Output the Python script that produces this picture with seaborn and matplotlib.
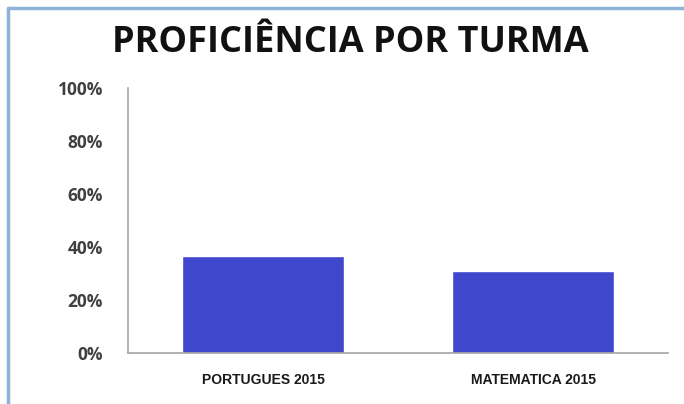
import seaborn as sns
import pandas as pd
import matplotlib.pyplot as plt
from matplotlib.lines import Line2D
from matplotlib.ticker import PercentFormatter

categorias = ["PORTUGUES 2015", "MATEMATICA 2015"]
proficiencia = [36.5, 31.0]
ticks_y = [0, 20, 40, 60, 80, 100]

df = pd.DataFrame({"disciplina": categorias, "valor": proficiencia})

sns.set_style("white")
plt.rcParams["font.family"] = ["Open Sans", "DejaVu Sans"]

fig = plt.figure(figsize=(6.84, 4.04), dpi=100)
ax = fig.add_axes([0.187, 0.126, 0.79, 0.656])

sns.barplot(data=df, x="disciplina", y="valor", color="#3F48CC", width=0.6,
            saturation=1, ax=ax)

ax.set_ylim(0, 100)
ax.set_yticks(ticks_y)
ax.yaxis.set_major_formatter(PercentFormatter(decimals=0))
ax.set_xlabel("")
ax.set_ylabel("")
ax.tick_params(axis="both", length=0)
ax.tick_params(axis="y", pad=18, labelsize=12.5, labelcolor="#404040")
ax.tick_params(axis="x", pad=14, labelsize=10, labelcolor="#1a1a1a")
for lab in ax.get_yticklabels():
    lab.set_fontweight("bold")
for lab in ax.get_xticklabels():
    lab.set_fontweight("bold")
    lab.set_family(["Liberation Sans Narrow", "Liberation Sans", "DejaVu Sans"])

sns.despine(ax=ax)
for s in ["left", "bottom"]:
    ax.spines[s].set_color("#a6a6a6")
    ax.spines[s].set_linewidth(1.2)

fig.text(0.512, 0.893, "PROFICIÊNCIA POR TURMA", ha="center", va="center",
         fontsize=26, fontweight="bold", color="#111111")

# moldura azul clara
fig.add_artist(Line2D([8 / 684, 8 / 684], [0, 1 - 8 / 404], transform=fig.transFigure,
                      color="#8fb2d8", lw=2.5))
fig.add_artist(Line2D([8 / 684, 1], [1 - 8 / 404, 1 - 8 / 404], transform=fig.transFigure,
                      color="#8fb2d8", lw=2.5))

fig.savefig("out.png", dpi=100)
